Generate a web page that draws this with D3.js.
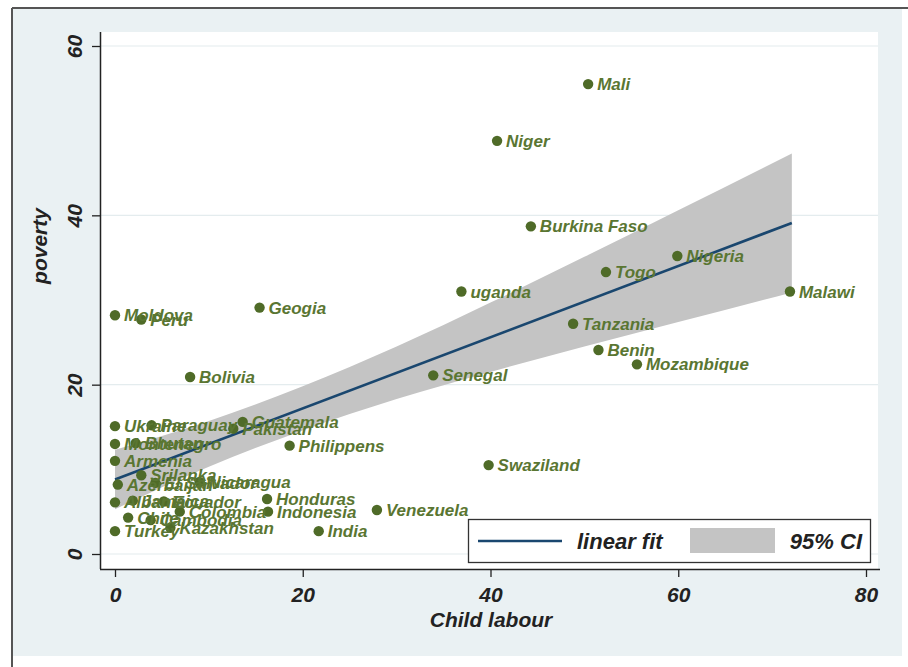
<!DOCTYPE html>
<html><head><meta charset="utf-8">
<script src="https://cdn.jsdelivr.net/npm/d3@7"></script>
<style>
body{margin:0;background:#fff;}
text{font-family:"Liberation Sans Narrow","Arial Narrow","Liberation Sans",Arial,sans-serif;font-weight:bold;font-style:italic;}
</style></head>
<body><svg id="c" width="908" height="667"></svg>
<script>
const countries = ["Mali","Niger","Burkina Faso","Nigeria","Togo","uganda","Malawi","Tanzania","Benin","Mozambique","Senegal","Swaziland","Venezuela","India","Honduras","Indonesia","Philippens","Guatemala","Pakistan","Geogia","Moldova","Peru","Bolivia","Ukraine","Paraguay","Montenegro","Bhutan","Armenia","Srilanka","Azerbaijan","El Salvador","Nicaragua","Albania","Jamaica","Ecuador","Colombia","Chile","Cambodia","Kazakhstan","Turkey"];
const childLabour = [50.4,40.7,44.3,59.9,52.3,36.9,71.9,48.8,51.5,55.6,33.9,39.8,27.9,21.7,16.2,16.3,18.6,13.6,12.6,15.4,0.0,2.8,8.0,0.0,3.9,0.0,2.2,0.0,2.8,0.3,4.3,9.0,0.0,1.9,5.2,6.9,1.4,3.8,5.9,0.0];
const poverty = [55.5,48.8,38.7,35.2,33.3,31.0,31.0,27.2,24.1,22.4,21.1,10.5,5.2,2.7,6.5,5.0,12.8,15.6,14.8,29.1,28.2,27.7,20.9,15.1,15.2,13.0,13.1,11.0,9.3,8.2,8.4,8.5,6.1,6.3,6.2,5.0,4.3,4.0,3.1,2.7];
const fitX = [0, 72.1];
const fitY = [8.8, 39.1];
const ciX  = [0, 10, 20, 30, 40, 50, 60, 72.1];
const ciLo = [5.3, 10.3, 14.6, 18.3, 21.5, 24.5, 27.4, 30.9];
const ciHi = [12.3, 15.7, 19.8, 24.5, 29.7, 35.1, 40.6, 47.3];
const xTicks = [0, 20, 40, 60, 80];
const yTicks = [0, 20, 40, 60];
const legendLabels = ["linear fit", "95% CI"];

const svg = d3.select("#c");
svg.append("rect").attr("x",12).attr("y",8).attr("width",890).attr("height",648).attr("fill","#eaf1f3");
svg.append("line").attr("x1",12).attr("x2",908).attr("y1",8).attr("y2",8).attr("stroke","#555").attr("stroke-width",2);
svg.append("line").attr("x1",12).attr("x2",12).attr("y1",8).attr("y2",667).attr("stroke","#555").attr("stroke-width",2);

const x = d3.scaleLinear().domain([0,80]).range([115,866]);
const y = d3.scaleLinear().domain([0,60]).range([554,46]);
const pl = {l:100, r:878, t:32, b:569};
svg.append("rect").attr("x",pl.l).attr("y",pl.t).attr("width",pl.r-pl.l).attr("height",pl.b-pl.t).attr("fill","#fff");
svg.append("g").selectAll("line").data(yTicks).join("line")
  .attr("x1",pl.l).attr("x2",pl.r).attr("y1",d=>y(d)).attr("y2",d=>y(d))
  .attr("stroke","#e4ecee").attr("stroke-width",1.2);

const band = ciX.map((v,i)=>({x:v,lo:ciLo[i],hi:ciHi[i]}));
svg.append("path").datum(band)
  .attr("d", d3.area().curve(d3.curveMonotoneX).x(d=>x(d.x)).y0(d=>y(d.lo)).y1(d=>y(d.hi)))
  .attr("fill","#c4c4c4");
svg.append("path").datum(fitX.map((v,i)=>[v,fitY[i]]))
  .attr("d", d3.line().x(d=>x(d[0])).y(d=>y(d[1])))
  .attr("stroke","#1a476f").attr("stroke-width",2.6).attr("fill","none");

const pts = countries.map((c,i)=>({c, x:childLabour[i], y:poverty[i]}));
svg.append("g").selectAll("circle").data(pts).join("circle")
  .attr("cx",d=>x(d.x)).attr("cy",d=>y(d.y)).attr("r",5.2).attr("fill","#4f6b28");
svg.append("g").selectAll("text").data(pts).join("text")
  .attr("x",d=>x(d.x)+9).attr("y",d=>y(d.y)).attr("dy","0.36em")
  .attr("font-size",17).attr("fill","#5a7632").text(d=>d.c);

const xa = svg.append("g").attr("transform",`translate(0,${pl.b})`)
  .call(d3.axisBottom(x).tickValues(xTicks).tickSize(8).tickPadding(6).tickFormat(d3.format("d")));
xa.select(".domain").attr("d",`M${pl.l},0.5H880`).attr("stroke","#222").attr("stroke-width",1.5);
xa.selectAll(".tick line").attr("stroke","#222").attr("stroke-width",1.3);
xa.selectAll(".tick text").attr("font-size",21).attr("fill","#222").attr("dy","0.9em");
const ya = svg.append("g").attr("transform",`translate(${pl.l},0)`)
  .call(d3.axisLeft(y).tickValues(yTicks).tickSize(8).tickFormat(d3.format("d")));
ya.select(".domain").attr("d",`M0.5,${pl.t}V${pl.b}`).attr("stroke","#222").attr("stroke-width",1.5);
ya.selectAll(".tick line").attr("stroke","#222").attr("stroke-width",1.3);
ya.selectAll(".tick text").attr("x",null).attr("dy",null)
  .attr("transform","translate(-18,0) rotate(-90)").attr("text-anchor","middle")
  .attr("font-size",21).attr("fill","#222");
svg.selectAll("g text").attr("font-family",null);

svg.append("text").attr("x",491).attr("y",627).attr("text-anchor","middle")
  .attr("font-size",21).attr("fill","#222").text("Child labour");
svg.append("text").attr("transform","translate(47,246) rotate(-90)").attr("text-anchor","middle")
  .attr("font-size",21).attr("fill","#222").text("poverty");

const lg = svg.append("g");
lg.append("rect").attr("x",468.5).attr("y",519.5).attr("width",402).attr("height",43)
  .attr("fill","#fff").attr("stroke","#333").attr("stroke-width",1.3);
lg.append("line").attr("x1",478).attr("x2",562).attr("y1",541).attr("y2",541)
  .attr("stroke","#1a476f").attr("stroke-width",2.6);
lg.append("text").attr("x",577).attr("y",549).attr("font-size",22).attr("fill","#222").text(legendLabels[0]);
lg.append("rect").attr("x",690).attr("y",528).attr("width",85).attr("height",25).attr("fill","#c4c4c4");
lg.append("text").attr("x",862).attr("y",549).attr("text-anchor","end").attr("font-size",22).attr("fill","#222").text(legendLabels[1]);
</script></body></html>
